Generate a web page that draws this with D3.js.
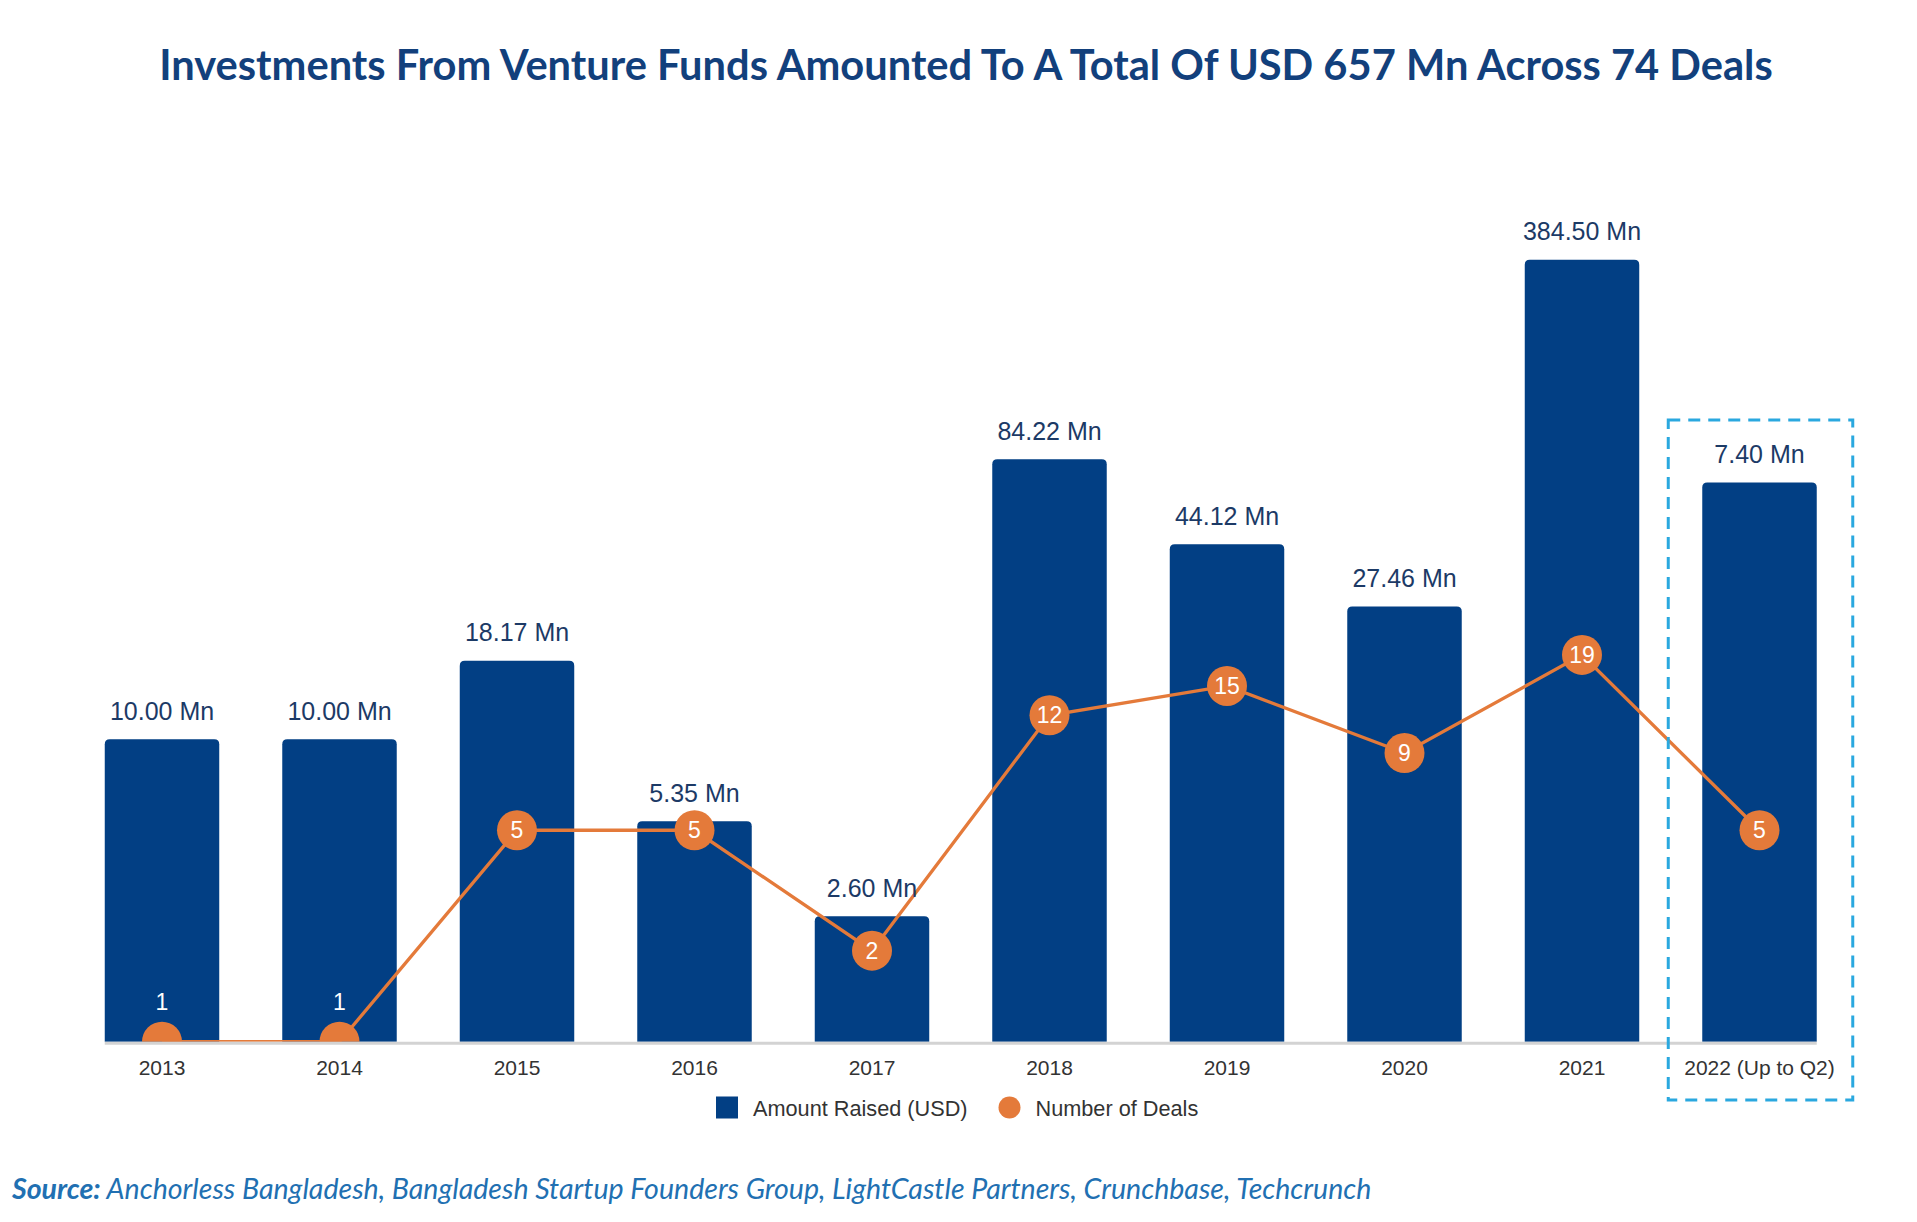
<!DOCTYPE html>
<html>
<head>
<meta charset="utf-8">
<script src="https://cdn.jsdelivr.net/npm/d3@7"></script>
<style>
  html, body { margin: 0; padding: 0; background: #ffffff; }
  svg { display: block; }
</style>
</head>
<body>
<script>
// ---- Data ----
const years = ["2013", "2014", "2015", "2016", "2017", "2018", "2019", "2020", "2021", "2022 (Up to Q2)"];
const amounts = [10.00, 10.00, 18.17, 5.35, 2.60, 84.22, 44.12, 27.46, 384.50, 70.6];
const amountLabels = ["10.00 Mn", "10.00 Mn", "18.17 Mn", "5.35 Mn", "2.60 Mn", "84.22 Mn", "44.12 Mn", "27.46 Mn", "384.50 Mn", "7.40 Mn"];
const deals = [1, 1, 5, 5, 2, 12, 15, 9, 19, 5];
const seriesNames = ["Amount Raised (USD)", "Number of Deals"];
const titleText = "Investments From Venture Funds Amounted To A Total Of USD 657 Mn Across 74 Deals";
const sourceLabel = "Source:";
const sourceText = " Anchorless Bangladesh, Bangladesh Startup Founders Group, LightCastle Partners, Crunchbase, Techcrunch";

// ---- Layout ----
const W = 1917, H = 1222;
const baseY = 1041.7;
const barColor = "#023f84";
const orange = "#e47a3a";
const labelColor = "#1c3a66";

const svg = d3.select("body").append("svg").attr("width", W).attr("height", H);

const x = d3.scaleBand().domain(years).range([73.25, 1848.25]).paddingInner(0.355).paddingOuter(0.1775);
const y = d3.scaleLog().domain([1, 1000]).range([baseY, baseY - 3 * 302.5]);
const bw = x.bandwidth();

// Title
const title = svg.append("text")
  .attr("x", 966).attr("y", 80)
  .attr("text-anchor", "middle")
  .style("font-family", "Lato, 'Open Sans', sans-serif")
  .style("font-weight", "700")
  .style("font-size", "40px")
  .style("fill", "#12407c")
  .text(titleText);
{
  const w = title.node().getComputedTextLength();
  title.style("font-size", (40 * 1614 / w).toFixed(2) + "px");
}

// Clip at baseline
svg.append("defs").append("clipPath").attr("id", "plotClip")
  .append("rect").attr("x", 0).attr("y", 0).attr("width", W).attr("height", baseY);

const plot = svg.append("g").attr("clip-path", "url(#plotClip)");

// Bars with rounded top corners
const r = 5;
plot.selectAll("path.bar").data(years).join("path")
  .attr("class", "bar")
  .attr("fill", barColor)
  .attr("d", (d, i) => {
    const x0 = x(d), x1 = x0 + bw, yt = y(amounts[i]), yb = baseY + 2;
    return `M${x0},${yb}V${yt + r}Q${x0},${yt} ${x0 + r},${yt}H${x1 - r}Q${x1},${yt} ${x1},${yt + r}V${yb}Z`;
  });

// Line
const line = d3.line()
  .x((d, i) => x(years[i]) + bw / 2)
  .y(d => y(d));
plot.append("path")
  .datum(deals)
  .attr("fill", "none")
  .attr("stroke", orange)
  .attr("stroke-width", 3.3)
  .attr("d", line);

// Points
plot.selectAll("circle.pt").data(deals).join("circle")
  .attr("class", "pt")
  .attr("cx", (d, i) => x(years[i]) + bw / 2)
  .attr("cy", d => y(d))
  .attr("r", 20)
  .attr("fill", orange);

// Deal labels
svg.selectAll("text.deal").data(deals).join("text")
  .attr("class", "deal")
  .attr("x", (d, i) => x(years[i]) + bw / 2)
  .attr("y", d => d === 1 ? y(d) - 40 + 8 : y(d) + 8)
  .attr("text-anchor", "middle")
  .style("font-family", "'Liberation Sans', Arial, sans-serif")
  .style("font-size", "23px")
  .style("fill", "#ffffff")
  .text(d => d);

// Value labels
svg.selectAll("text.val").data(amountLabels).join("text")
  .attr("class", "val")
  .attr("x", (d, i) => x(years[i]) + bw / 2)
  .attr("y", (d, i) => y(amounts[i]) - 19.5)
  .attr("text-anchor", "middle")
  .style("font-family", "'Liberation Sans', Arial, sans-serif")
  .style("font-size", "25px")
  .style("fill", labelColor)
  .text(d => d);

// Baseline
svg.append("line")
  .attr("x1", x(years[0])).attr("x2", x(years[years.length - 1]) + bw)
  .attr("y1", baseY + 1.5).attr("y2", baseY + 1.5)
  .attr("stroke", "#d3d3d3").attr("stroke-width", 3);

// X axis labels
const xAxis = svg.append("g")
  .attr("transform", `translate(0,${baseY + 3})`)
  .call(d3.axisBottom(x).tickSize(0).tickPadding(0));
xAxis.select(".domain").remove();
xAxis.selectAll("text")
  .attr("y", 30)
  .attr("dy", 0)
  .style("font-family", "'Liberation Sans', Arial, sans-serif")
  .style("font-size", "21px")
  .style("fill", "#333333");

// Dashed highlight box around last category
const lastX = x(years[years.length - 1]);
svg.append("rect")
  .attr("x", lastX - 34).attr("y", 420)
  .attr("width", 184.5).attr("height", 680)
  .attr("fill", "none")
  .attr("stroke", "#2aa8df")
  .attr("stroke-width", 3)
  .attr("stroke-dasharray", "12 8");

// Legend
const lg = svg.append("g").attr("transform", "translate(0,1107.5)");
lg.append("rect").attr("x", 716).attr("y", -11).attr("width", 22).attr("height", 22).attr("fill", barColor);
lg.append("text").attr("x", 753).attr("y", 8)
  .style("font-family", "'Liberation Sans', Arial, sans-serif").style("font-size", "21.7px").style("fill", "#333333")
  .text(seriesNames[0]);
lg.append("circle").attr("cx", 1009.5).attr("cy", 0).attr("r", 11).attr("fill", orange);
lg.append("text").attr("x", 1035.5).attr("y", 8)
  .style("font-family", "'Liberation Sans', Arial, sans-serif").style("font-size", "21.7px").style("fill", "#333333")
  .text(seriesNames[1]);

// Source
const src = svg.append("text")
  .attr("x", 12).attr("y", 1199)
  .style("font-family", "Lato, 'Open Sans', sans-serif")
  .style("font-style", "italic")
  .style("font-size", "26px")
  .style("fill", "#2170b2");
src.append("tspan").style("font-weight", "700").text(sourceLabel);
src.append("tspan").text(sourceText);
{
  const w = src.node().getComputedTextLength();
  src.style("font-size", (26 * 1360 / w).toFixed(2) + "px");
}
</script>
</body>
</html>
